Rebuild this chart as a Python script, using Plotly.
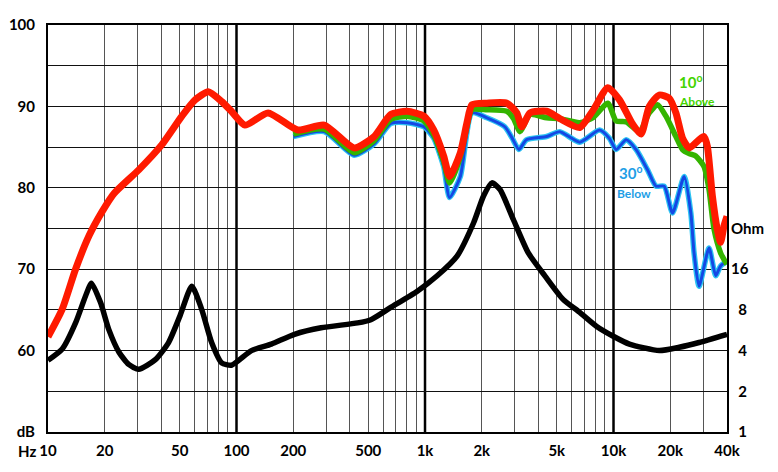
import math
import plotly.graph_objects as go

# on-axis response (red)
red_f = [10, 11.9, 14, 16.5, 19.4, 22.4, 30.3, 40.2, 51.3, 60.3, 70.9, 83.4, 94, 111, 147,
         211, 292, 421, 537, 658, 805, 986, 1112, 1256, 1350, 1540, 1670, 1775, 2131, 2718,
         3068, 3262, 3606, 4418, 5190, 6620, 7780, 9330, 10760, 12650, 14000, 15480, 17490,
         19760, 21430, 23230, 25190, 28430, 30200, 31460, 33450, 35510, 36990, 38540, 40000]
red_db = [61.7, 65.1, 70.0, 74.1, 77.1, 79.3, 82.2, 85.3, 88.8, 90.8, 91.8, 90.6, 89.4, 87.7, 89.2,
          87.1, 87.7, 84.9, 86.3, 89.0, 89.4, 88.8, 87.1, 83.9, 81.4, 84.3, 88.0, 90.2, 90.4, 90.4,
          89.2, 87.5, 89.2, 89.4, 88.5, 87.4, 89.5, 92.3, 90.8, 87.8, 86.6, 90.0, 91.4,
          91.0, 89.2, 86.1, 84.9, 85.9, 86.3, 85.1, 79.0, 74.9, 73.3, 75.3, 76.5]

# 10 deg above (green)
green_f = [200, 292, 421, 537, 658, 805, 986, 1112, 1256, 1350, 1540, 1670, 1775, 2131, 2718,
           2950, 3190, 3606, 4418, 5190, 6620, 7780, 9330, 10330, 11670, 13720, 15480, 17130,
           18970, 21430, 23230, 25190, 27300, 30200, 32120, 34150, 36990, 38540, 40000]
green_db = [86.6, 87.2, 84.3, 85.8, 88.4, 88.8, 88.2, 86.5, 83.2, 80.6, 83.8, 87.6, 89.6, 89.6, 89.4,
            88.5, 86.9, 89.0, 88.6, 88.5, 88.0, 88.6, 90.4, 88.2, 88.1, 86.9, 89.2, 90.2,
            88.8, 86.3, 84.7, 84.2, 83.9, 82.6, 79.8, 74.9, 72.0, 71.2, 70.6]

# 30 deg below (blue)
blue_f = [200, 292, 421, 537, 658, 805, 986, 1112, 1256, 1350, 1540, 1775, 2131, 2650, 2900,
          3150, 3450, 4418, 5190, 6620, 8430, 9500, 10330, 11670, 13180, 15160, 16800, 18580,
          20560, 23710, 25720, 26750, 28430, 32120, 34840, 36990, 40000]
blue_db = [86.3, 86.9, 84.0, 85.4, 87.9, 88.0, 87.5, 86.1, 82.6, 78.8, 81.4, 89.2, 88.6, 87.5, 86.1,
           84.7, 85.9, 86.3, 86.9, 85.6, 87.1, 86.1, 84.7, 85.9, 84.7, 82.2, 80.2, 80.2,
           76.9, 81.4, 76.9, 72.0, 67.9, 72.6, 69.2, 70.4, 71.0]

# impedance (black), ohm
imp_f = [10, 11.9, 14.0, 15.8, 17.0, 19.0, 21.0, 23.8, 26.8, 30.3, 37.1, 43.6, 50.2, 57.9, 65.3,
         73.8, 83.4, 94.1, 120, 153, 203, 281, 439, 516, 658, 910, 1160, 1479, 1811, 2044,
         2265, 2500, 2942, 3532, 4325, 5400, 6620, 8110, 9915, 12140, 17490, 22300, 28430, 40000]
imp_ohm = [3.39, 4.11, 6.41, 10.1, 12.6, 9.06, 5.74, 3.89, 3.16, 2.91, 3.43, 4.59, 7.26, 11.96, 8.11,
           4.59, 3.25, 3.12, 4.0, 4.47, 5.28, 5.90, 6.41, 6.77, 8.34, 11.0, 14.3, 20.0, 35.3, 55.7,
           69.6, 62.2, 37.3, 21.1, 14.3, 9.58, 7.67, 6.06, 5.13, 4.47, 4.0, 4.23, 4.59, 5.28]

x_ticks = [10, 20, 50, 100, 200, 500, 1000, 2000, 5000, 10000, 20000, 40000]
x_labels = ["10", "20", "50", "100", "200", "500", "1k", "2k", "5k", "10k", "20k", "40k"]
db_ticks = [50, 60, 70, 80, 90, 100]
db_labels = ["dB", "60", "70", "80", "90", "100"]
ohm_ticks = [1, 2, 4, 8, 16, 32]
ohm_labels = ["\u00a0\u00a01", "\u00a0\u00a02", "\u00a0\u00a04", "\u00a0\u00a08", "16", "Ohm"]

decades = [100, 1000, 10000]
minor_x = [k * d for d in [10, 100, 1000, 10000] for k in range(2, 10) if k * d < 40000]

tick_font = dict(family="Lato", size=15, color="black", weight="bold")

fig = go.Figure()
fig.add_trace(go.Scatter(x=blue_f, y=blue_db, mode="lines",
                         line=dict(color="#2cc4f2", width=5.5, shape="spline", smoothing=0.6)))
fig.add_trace(go.Scatter(x=blue_f, y=blue_db, mode="lines",
                         line=dict(color="#1448e4", width=3, shape="spline", smoothing=0.6)))
fig.add_trace(go.Scatter(x=green_f, y=green_db, mode="lines",
                         line=dict(color="#34b400", width=5.5, shape="spline", smoothing=0.6)))
fig.add_trace(go.Scatter(x=red_f, y=red_db, mode="lines",
                         line=dict(color="#ff1a00", width=7, shape="spline", smoothing=0.6)))
fig.add_trace(go.Scatter(x=imp_f, y=imp_ohm, mode="lines", yaxis="y2",
                         line=dict(color="black", width=5.5, shape="spline", smoothing=0.6)))

for d in decades:
    fig.add_shape(type="line", xref="x", yref="paper", x0=d, x1=d, y0=0, y1=1,
                  line=dict(color="black", width=2.5), layer="below")

green_txt = "#44d400"
blue_txt = "#1e9ee6"

fig.add_annotation(xref="paper", yref="paper", x=0, y=0, xanchor="right", yanchor="top",
                   xshift=-10, yshift=-8, text="Hz", showarrow=False, font=tick_font)
fig.add_annotation(xref="x", yref="y", x=math.log10(22000), y=91.8, xanchor="left",
                   yanchor="bottom", borderpad=0, text="10<sup>o</sup>", showarrow=False,
                   font=dict(family="Lato", size=15, color=green_txt, weight="bold"))
fig.add_annotation(xref="x", yref="y", x=math.log10(22000), y=91.6, xanchor="left",
                   yanchor="top", borderpad=0, text="Above", showarrow=False,
                   font=dict(family="Lato", size=12, color=green_txt, weight="bold"))
fig.add_annotation(xref="x", yref="y", x=math.log10(10500), y=80.6, xanchor="left",
                   yanchor="bottom", borderpad=0, text="30<sup>o</sup>", showarrow=False,
                   font=dict(family="Lato", size=15, color=blue_txt, weight="bold"))
fig.add_annotation(xref="x", yref="y", x=math.log10(10300), y=80.4, xanchor="left",
                   yanchor="top", borderpad=0, text="Below", showarrow=False,
                   font=dict(family="Lato", size=12, color=blue_txt, weight="bold"))

# page body adds an 8px margin, so the figure is 8px smaller and shifted margins
fig.update_layout(
    width=770, height=464,
    margin=dict(l=40, r=51, t=17, b=40, autoexpand=False),
    paper_bgcolor="white", plot_bgcolor="white",
    showlegend=False,
    xaxis=dict(type="log", range=[1, math.log10(40000)], tickvals=x_ticks, ticktext=x_labels,
               showgrid=False, zeroline=False, ticks="", tickfont=tick_font,
               ticklabelstandoff=4, automargin=False,
               showline=True, mirror=True, linecolor="black", linewidth=2,
               minor=dict(tickvals=minor_x, showgrid=True, gridcolor="#555", gridwidth=1.2,
                          ticks="")),
    yaxis=dict(range=[50, 100], tickvals=db_ticks, ticktext=db_labels,
               showgrid=True, gridcolor="#111", gridwidth=1.2, zeroline=False, ticks="",
               tickfont=tick_font, ticklabelstandoff=8, automargin=False,
               showline=True, mirror=True, linecolor="black", linewidth=2,
               minor=dict(tickvals=[55, 65, 75, 85, 95], showgrid=True, gridcolor="#111",
                          gridwidth=1.2, ticks="")),
    yaxis2=dict(type="log", range=[0, math.log10(1024)], overlaying="y", side="right",
                tickvals=ohm_ticks, ticktext=ohm_labels, showgrid=False, zeroline=False,
                ticks="", tickfont=tick_font, showline=False, ticklabelstandoff=3,
                automargin=False),
)

fig.write_html("out.html")
